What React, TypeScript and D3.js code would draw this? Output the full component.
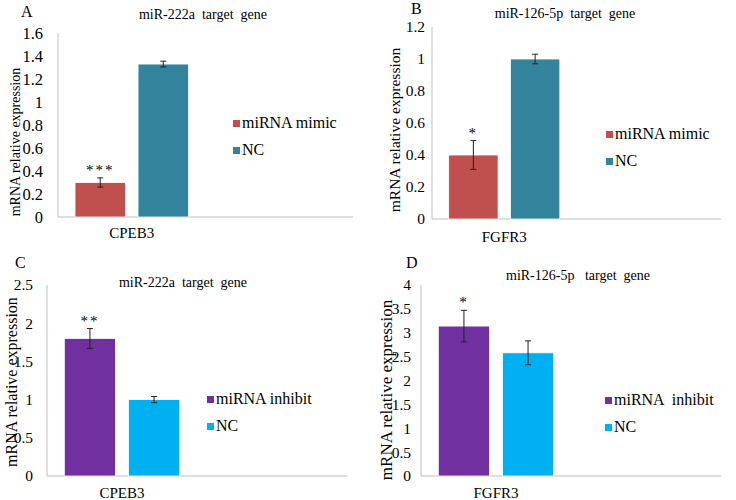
import React from 'react';
import * as d3 from 'd3';

// values
const seriesMimic = ['miRNA mimic', 'NC'];
const seriesInhibit = ['miRNA inhibit', 'NC'];
const seriesInhibitD = ['miRNA  inhibit', 'NC'];

const valuesA = [0.30, 1.33];
const errorsA = [0.04, 0.025];
const valuesB = [0.40, 1.00];
const errorsB = [0.09, 0.03];
const valuesC = [1.80, 1.00];
const errorsC = [0.13, 0.04];
const valuesD = [3.14, 2.58];
const errorsD = [0.33, 0.25];

const starsA = '***';
const starsB = '*';
const starsC = '**';
const starsD = '*';

const ticksA = d3.range(0, 1.61, 0.2);
const ticksB = d3.range(0, 1.21, 0.2);
const ticksC = d3.range(0, 2.51, 0.5);
const ticksD = d3.range(0, 4.01, 0.5);

const colorsTop = ['#C0504D', '#31849B'];
const colorsBottom = ['#7030A0', '#00B0F0'];

const FONT = "'Liberation Serif', 'Times New Roman', Times, serif";
const tx = { fontFamily: FONT, whiteSpace: 'pre' } as React.CSSProperties;

interface PanelProps {
  letter: string;
  title: string;
  category: string;
  series: string[];
  values: number[];
  errors: number[];
  stars: string;
  ticks: number[];
  colors: string[];
  layout: {
    left: number; right: number; top: number; bottom: number;
    letterX: number; letterY: number; titleX: number; titleY: number;
    ylabX: number; ylabY: number; ylabSize: number; catY: number;
    legX: number; legY: number; tickSize: number; tickGap: number;
  };
}

const fmt = (v: number) => {
  const r = Math.round(v * 10) / 10;
  return Number.isInteger(r) ? String(r) : r.toFixed(1);
};

const Panel: React.FC<PanelProps> = ({ letter, title, category, series, values, errors, stars, ticks, colors, layout: L }) => {
  const y = d3.scaleLinear().domain([0, ticks[ticks.length - 1]]).range([L.bottom, L.top]);
  const x = d3.scaleBand().domain([category, '']).range([L.left, L.right]);
  const xs = d3.scaleBand().domain(series).range([0, x.bandwidth()]).paddingInner(0.2).paddingOuter(0.27);
  const x0 = x(category)!;

  return (
    <g>
      <text x={L.letterX} y={L.letterY} fontSize={16} style={tx}>{letter}</text>
      <text x={L.titleX} y={L.titleY} fontSize={14} textAnchor="middle" style={tx}>{title}</text>
      <line x1={L.left} x2={L.left} y1={L.top} y2={L.bottom} stroke="#BFBFBF" />
      <line x1={L.left} x2={L.right} y1={L.bottom} y2={L.bottom} stroke="#BFBFBF" />
      {ticks.map((t) => (
        <text key={t} x={L.left - L.tickGap} y={y(t)} dy="0.35em" fontSize={L.tickSize} textAnchor="end" style={tx}>{fmt(t)}</text>
      ))}
      <text transform={`translate(${L.ylabX},${L.ylabY}) rotate(-90)`} dy="0.35em" fontSize={L.ylabSize} textAnchor="middle" style={tx}>mRNA relative expression</text>
      {series.map((s, i) => {
        const bx = x0 + xs(s)!;
        const cx = bx + xs.bandwidth() / 2;
        const hi = y(values[i] + errors[i]);
        const lo = y(values[i] - errors[i]);
        return (
          <g key={s}>
            <rect x={bx} y={y(values[i])} width={xs.bandwidth()} height={L.bottom - y(values[i])} fill={colors[i]} stroke="#ffffff" strokeWidth={0.8} />
            <line x1={cx} x2={cx} y1={hi} y2={lo} stroke="#222" strokeWidth={1} />
            <line x1={cx - 3} x2={cx + 3} y1={hi} y2={hi} stroke="#222" strokeWidth={1} />
            <line x1={cx - 3} x2={cx + 3} y1={lo} y2={lo} stroke="#222" strokeWidth={1} />
            {i === 0 && (
              <text x={cx} y={hi - 3} fontSize={15} textAnchor="middle" letterSpacing={2} style={tx}>{stars}</text>
            )}
          </g>
        );
      })}
      <text x={x0 + x.bandwidth() / 2} y={L.catY} fontSize={15} textAnchor="middle" style={tx}>{category}</text>
      {series.map((s, i) => (
        <g key={'leg' + s} transform={`translate(${L.legX},${L.legY + i * 27})`}>
          <rect x={0} y={-8} width={7} height={7} fill={colors[i]} />
          <text x={9} y={0} fontSize={16} style={tx}>{s}</text>
        </g>
      ))}
    </g>
  );
};

export default function App() {
  return (
    <svg width={736} height={500} style={{ position: 'absolute', left: 0, top: 0, background: '#fff' }}>
      <rect width={736} height={500} fill="#fff" />
      <Panel letter="A" title="miR-222a  target  gene" category="CPEB3" series={seriesMimic} values={valuesA} errors={errorsA} stars={starsA} ticks={ticksA} colors={colorsTop}
        layout={{ left: 58, right: 353, top: 33, bottom: 217, letterX: 21, letterY: 17, titleX: 203, titleY: 19, ylabX: 15, ylabY: 142, ylabSize: 14, catY: 238, legX: 233, legY: 128, tickSize: 16.5, tickGap: 15 }} />
      <Panel letter="B" title="miR-126-5p  target  gene" category="FGFR3" series={seriesMimic} values={valuesB} errors={errorsB} stars={starsB} ticks={ticksB} colors={colorsTop}
        layout={{ left: 432, right: 721, top: 27, bottom: 219, letterX: 411, letterY: 14, titleX: 565, titleY: 18, ylabX: 395, ylabY: 130, ylabSize: 15.5, catY: 242, legX: 606, legY: 139, tickSize: 15.5, tickGap: 7 }} />
      <Panel letter="C" title="miR-222a  target  gene" category="CPEB3" series={seriesInhibit} values={valuesC} errors={errorsC} stars={starsC} ticks={ticksC} colors={colorsBottom}
        layout={{ left: 47, right: 347, top: 285, bottom: 476, letterX: 15, letterY: 268, titleX: 183, titleY: 287, ylabX: 11, ylabY: 382, ylabSize: 16, catY: 498, legX: 207, legY: 404, tickSize: 15.5, tickGap: 14 }} />
      <Panel letter="D" title="miR-126-5p   target  gene" category="FGFR3" series={seriesInhibitD} values={valuesD} errors={errorsD} stars={starsD} ticks={ticksD} colors={colorsBottom}
        layout={{ left: 421, right: 721, top: 285, bottom: 476, letterX: 406, letterY: 268, titleX: 578, titleY: 280, ylabX: 386, ylabY: 390, ylabSize: 17, catY: 498, legX: 605, legY: 405, tickSize: 15.5, tickGap: 10 }} />
    </svg>
  );
}
